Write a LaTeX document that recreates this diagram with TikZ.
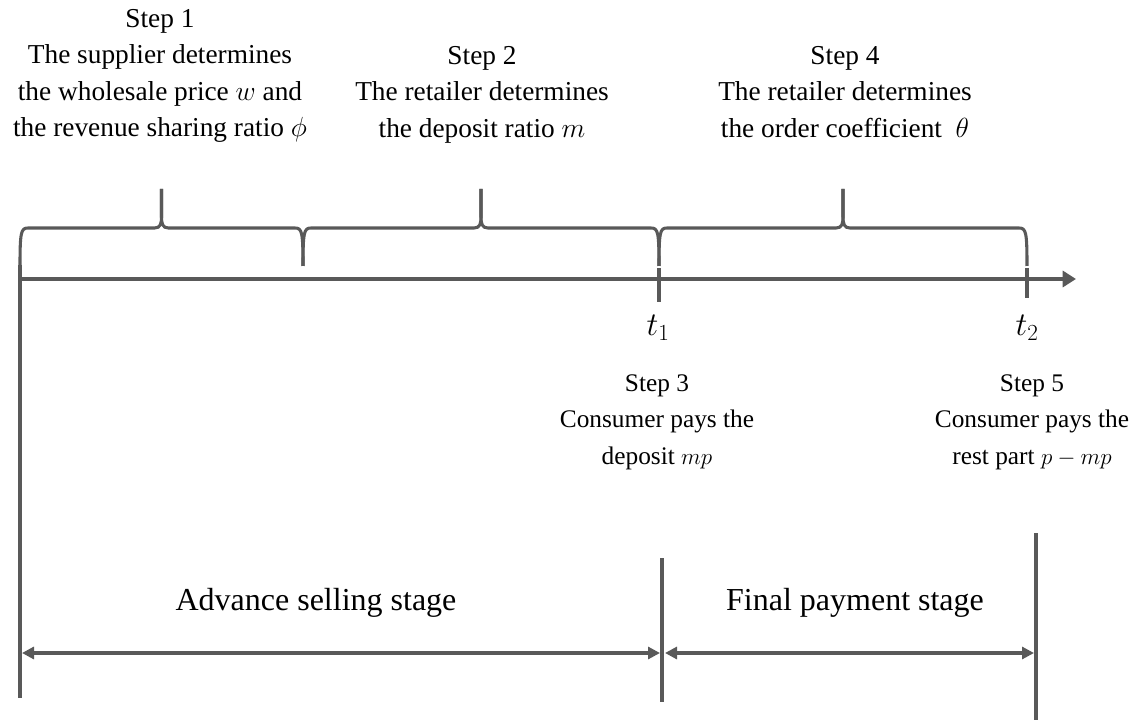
\documentclass[tikz,border=0pt]{standalone}
\usepackage{fontspec}
\setmainfont{Liberation Serif}
\usetikzlibrary{arrows.meta}
\definecolor{linegray}{RGB}{89,89,89}
\begin{document}
\begin{tikzpicture}[x=0.75pt, y=-0.75pt, >=latex,
    steptext/.style={align=center, inner sep=0pt, anchor=north,
      font=\fontsize{20.5}{27.4}\selectfont},
    paytext/.style={steptext, font=\fontsize{19}{27.4}\selectfont},
    stagetext/.style={inner sep=0pt, font=\fontsize{24}{28}\selectfont},
    timetext/.style={inner sep=0pt, font=\fontsize{27}{30}\selectfont},
    bracepath/.style={draw=linegray, line width=2.3pt, line join=round},
    barline/.style={draw=linegray, line width=3.2pt},
    stagearrow/.style={draw=linegray, line width=2.4pt,
      {Triangle[length=9pt,width=9pt]}-{Triangle[length=9pt,width=9pt]}}]
    \useasboundingbox (0,0) rectangle (1134,723);

    % 1. 定义关键坐标点
    % 时间轴
    \coordinate (origin) at (20,279);
    \coordinate (t1) at (659,279);
    \coordinate (t2) at (1027,279);
    \coordinate (axisend) at (1076,279);
    % 竖线端点
    \coordinate (lefttop) at (20,265);
    \coordinate (leftbot) at (20,698);
    \coordinate (t1top) at (659,268);
    \coordinate (t1bot) at (659,302);
    \coordinate (t2top) at (1027,268);
    \coordinate (t2bot) at (1027,298);
    \coordinate (midtop) at (662,558);
    \coordinate (midbot) at (662,702);
    \coordinate (righttop) at (1036,533);
    \coordinate (rightbot) at (1036,720);
    % 阶段箭头端点
    \coordinate (adv1) at (22,653);
    \coordinate (adv2) at (660,653);
    \coordinate (fin1) at (665,653);
    \coordinate (fin2) at (1034,653);

    % 2. 绘制时间轴和竖线
    \draw[barline, -{Triangle[length=10pt,width=12pt]}] (origin) -- (axisend);
    \draw[barline] (lefttop) -- (leftbot);
    \draw[barline, line width=2.5pt] (t1top) -- (t1bot);
    \draw[barline, line width=3.6pt] (t2top) -- (t2bot);
    \draw[barline] (midtop) -- (midbot);
    \draw[barline] (righttop) -- (rightbot);

    % 3. 绘制大括号
    \foreach \xa/\xb in {20/303, 303/659, 659/1027}{
      \pgfmathsetmacro{\xm}{(\xa+\xb)/2}
      \draw[bracepath] (\xa,266) .. controls (\xa,232) and (\xa+1,228) .. (\xa+8,228)
            -- (\xm-7,228) .. controls (\xm-1,228) and (\xm,224) .. (\xm,216) -- (\xm,189);
      \draw[bracepath] (\xm,189) -- (\xm,216) .. controls (\xm,224) and (\xm+1,228) .. (\xm+7,228)
            -- (\xb-8,228) .. controls (\xb-1,228) and (\xb,232) .. (\xb,266);
    }

    % 4. 阶段箭头
    \draw[stagearrow] (adv1) -- (adv2);
    \draw[stagearrow] (fin1) -- (fin2);

    % 5. 标注文字
    \node[steptext] (step1) at (160,9)
      {Step 1\\The supplier determines\\the wholesale price $w$ and\\the revenue sharing ratio $\phi$};
    \node[steptext] (step2) at (482,46)
      {Step 2\\The retailer determines\\the deposit ratio $m$};
    \node[steptext] (step4) at (845,46)
      {Step 4\\The retailer determines\\the order coefficient\ \ $\theta$};
    \node[paytext] (step3) at (657,374)
      {Step 3\\Consumer pays the\\deposit $mp$};
    \node[paytext] (step5) at (1032,374)
      {Step 5\\Consumer pays the\\rest part $p-mp$};
    \node[timetext] (t1label) at (658,328) {$t_1$};
    \node[timetext] (t2label) at (1027,328) {$t_2$};
    \node[stagetext] (advance) at (316,603) {Advance selling stage};
    \node[stagetext] (final) at (855,603) {Final payment stage};

  \end{tikzpicture}
\end{document}
